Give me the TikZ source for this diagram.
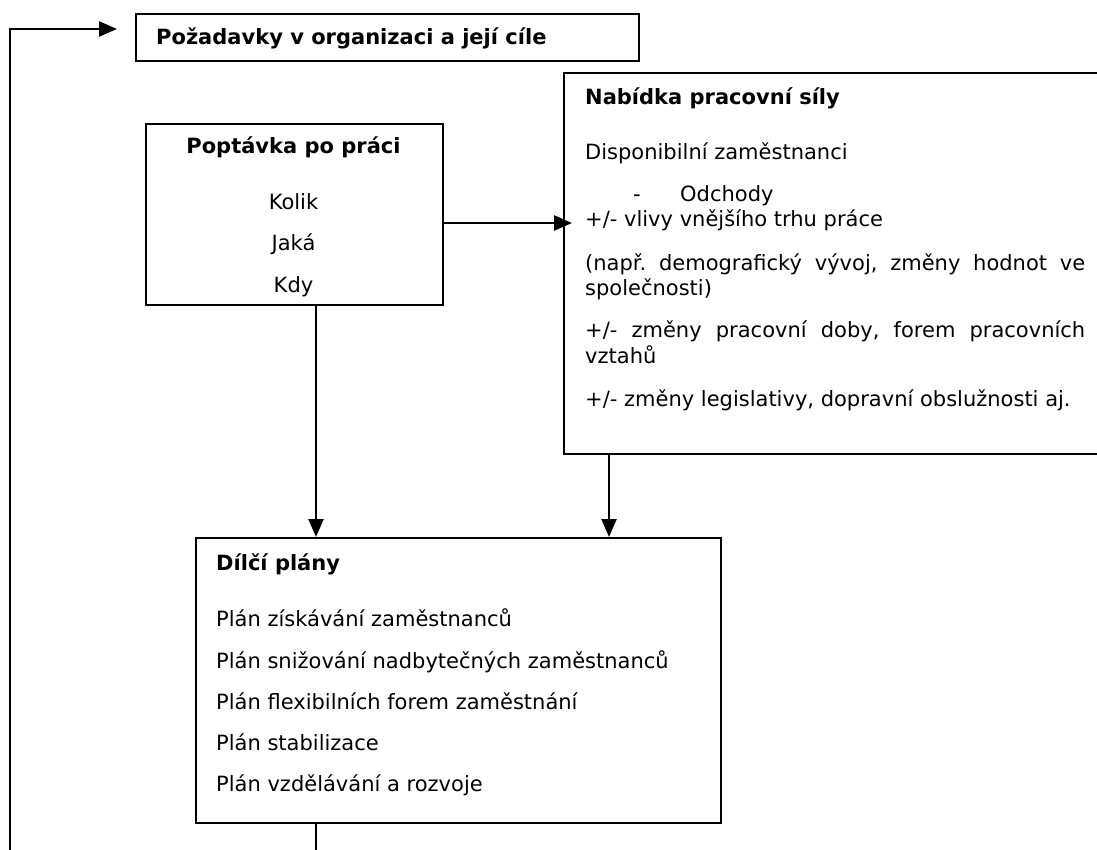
\documentclass[tikz,border=0pt]{standalone}
\usepackage{fontspec}
\setmainfont{DejaVu Sans}
\usetikzlibrary{arrows.meta}
\frenchspacing
\begin{document}
\begin{tikzpicture}[x=1pt,y=-1pt,
  box/.style={draw, line width=2.4pt, rectangle, inner sep=0pt, anchor=north west},
  txt/.style={anchor=base west, inner sep=0pt, font=\fontsize{21}{25}\selectfont},
  btxt/.style={anchor=base west, inner sep=0pt, font=\fontsize{21}{25}\selectfont\bfseries},
  conn/.style={line width=2.4pt, -{Triangle[length=18pt,width=15pt]}},
  plainline/.style={line width=2.4pt}]
\useasboundingbox (0,0) rectangle (1097,850);
\clip (0,0) rectangle (1097,850);

% boxes
\node[box, minimum width=503pt, minimum height=47pt] (goals) at (135,13) {};
\node[box, minimum width=297pt, minimum height=181pt] (demand) at (145,123) {};
\node[box, minimum width=545pt, minimum height=381pt] (supply) at (563,72) {};
\node[box, minimum width=525pt, minimum height=285pt] (plans) at (195,537) {};

% goals text
\node[btxt] (goalsT) at (156,45) {Požadavky v organizaci a její cíle};

% demand text
\node[btxt, anchor=base] (demandT) at (293.5,154) {Poptávka po práci};
\node[txt, anchor=base] (d1) at (293.5,210) {Kolik};
\node[txt, anchor=base] (d2) at (293.5,251) {Jaká};
\node[txt, anchor=base] (d3) at (293.5,292) {Kdy};

% supply text
\node[btxt] (supplyT) at (585,105) {Nabídka pracovní síly};
\node[txt] (s1) at (585,160) {Disponibilní zaměstnanci};
\node[txt] (s2a) at (633,202) {-};
\node[txt] (s2b) at (680,202) {Odchody};
\node[txt] (s3) at (585,227) {+/- vlivy vnějšího trhu práce};
\node[txt] (s4) at (585,271) {\makebox[500pt][s]{(např. demografický vývoj, změny hodnot ve}};
\node[txt] (s5) at (585,295) {společnosti)};
\node[txt] (s6) at (585,337) {\makebox[500pt][s]{+/- změny pracovní doby, forem pracovních}};
\node[txt] (s7) at (585,363) {vztahů};
\node[txt] (s8) at (585,406) {+/- změny legislativy, dopravní obslužnosti aj.};

% plans text
\node[btxt] (plansT) at (216,570) {Dílčí plány};
\node[txt] (p1) at (216,626) {Plán získávání zaměstnanců};
\node[txt] (p2) at (216,668) {Plán snižování nadbytečných zaměstnanců};
\node[txt] (p3) at (216,709) {Plán flexibilních forem zaměstnání};
\node[txt] (p4) at (216,750) {Plán stabilizace};
\node[txt] (p5) at (216,791) {Plán vzdělávání a rozvoje};

% connectors
\coordinate (loopstart) at (10,851);
\coordinate (loopcorner) at (10,29);
\coordinate (looptip) at (117,29);
\draw[conn] (loopstart) -- (loopcorner) -- (looptip);

\coordinate (suptip) at (572,223);
\draw[conn] (demand.east |- suptip) -- (suptip);

\coordinate (ax1) at (316,0);
\coordinate (ax2) at (609,0);
\draw[conn] (demand.south -| ax1) -- (plans.north -| ax1);
\draw[conn] (supply.south -| ax2) -- (plans.north -| ax2);

\coordinate (planout) at (316,851);
\draw[plainline] (plans.south -| planout) -- (planout);
\end{tikzpicture}
\end{document}
